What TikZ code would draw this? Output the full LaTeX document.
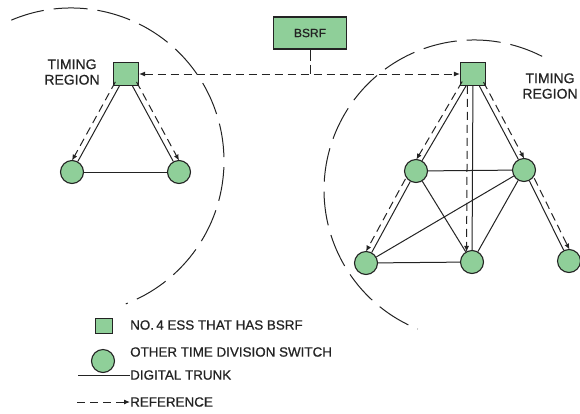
\documentclass[tikz,border=0pt]{standalone}
\usepackage{fontspec}
\setmainfont[FakeBold=0.7]{Liberation Sans}
\usetikzlibrary{calc,arrows.meta}
\definecolor{swgreen}{RGB}{143,207,153}
\definecolor{ink}{RGB}{35,35,35}
\tikzset{
  ess/.style={draw=ink, fill=swgreen, line width=1.1pt, minimum width=25pt,
    minimum height=23pt, inner sep=0pt},
  tds/.style={circle, draw=ink, fill=swgreen, line width=1.1pt, minimum size=23pt,
    inner sep=0pt},
  trunk/.style={draw=ink, line width=1pt},
  reftip/.style={-{Latex[length=6pt,width=5pt]}},
  refl/.style={draw=ink, line width=1pt, dash pattern=on 8pt off 5pt, reftip},
  region/.style={draw=ink, line width=1pt, dash pattern=on 34pt off 10pt},
  lbl/.style={font=\fontsize{13.4}{15}\selectfont, text=ink, align=center, inner sep=0pt},
}
% solid trunk between two switches, plus the reference line beside it
% (#3 = +90 or -90 picks the side of the offset)
\newcommand\reftrunk[3]{%
  \draw[trunk] (#1) -- (#2);
  \draw[refl, shorten <=12pt, shorten >=10pt]
    ($(#1)!5.5pt!#3:(#2)$) -- ($(#2)!5.5pt!-#3:(#1)$);
}
\begin{document}
\begin{tikzpicture}[x=1pt, y=-1pt]
\useasboundingbox (0,0) rectangle (580,413);

% timing region boundaries
\draw[region] (71,161) ++(-113:153) arc[start angle=-113, end angle=69, radius=153];
\draw[region] (474,190) ++(-63:150) arc[start angle=-63, end angle=-248, radius=150];

% switches
\node[ess] (sqL) at (126,74) {};
\node[tds] (cL1) at (72,172) {};
\node[tds] (cL2) at (179,172) {};

\node[ess] (sqR) at (473,74) {};
\node[tds] (t1) at (416,171) {};
\node[tds] (t2) at (524,170) {};
\node[tds] (b1) at (366,263) {};
\node[tds] (b2) at (472,262) {};
\node[tds] (b3) at (569,261) {};

\node[ess, minimum width=73pt, minimum height=32pt,
      font=\fontsize{12}{14}\selectfont, text=ink] (bsrf) at (310,33) {BSRF};

% BSRF reference distribution
\draw[draw=ink, line width=1pt, dash pattern=on 8pt off 5pt,
      {Latex[length=6pt,width=5pt]}-{Latex[length=6pt,width=5pt]}]
  (sqL.east) -- (sqR.west);
\coordinate (tap) at (bsrf.south |- sqL.east);
\draw[draw=ink, line width=1pt, dash pattern=on 11pt off 4pt] (bsrf.south) -- (tap);

% left timing region
\reftrunk{sqL}{cL1}{-90}
\reftrunk{sqL}{cL2}{90}
\draw[trunk] (cL1) -- (cL2);

% right timing region
\reftrunk{sqR}{t1}{-90}
\reftrunk{sqR}{t2}{90}
\reftrunk{sqR}{b2}{-90}
\reftrunk{t1}{b1}{-90}
\reftrunk{t2}{b3}{90}
\draw[trunk] (t1) -- (t2);
\draw[trunk] (t1) -- (b2);
\draw[trunk] (t2) -- (b1);
\draw[trunk] (t2) -- (b2);
\draw[trunk] (b1) -- (b2);

% region labels
\node[lbl, font=\fontsize{14}{15.5}\selectfont] (tmL) at (72,72) {TIMING\\REGION};
\node[lbl, font=\fontsize{14}{15.5}\selectfont] (tmR) at (550,86) {TIMING\\REGION};

% legend
\node[ess, minimum width=17pt, minimum height=15pt] (lgE) at (104,326) {};
\node[tds] (lgT) at (103,361) {};
\node[lbl, anchor=west] (tE) at (130,325) {NO.\,4 ESS THAT HAS BSRF};
\node[lbl, anchor=west] (tT) at (130,352) {OTHER TIME DIVISION SWITCH};
\node[lbl, anchor=west] (tD) at (130,375) {DIGITAL TRUNK};
\node[lbl, anchor=west] (tR) at (130,402) {REFERENCE};
\coordinate (dStart) at (78,375);
\coordinate (rStart) at (77,402);
\draw[trunk] (dStart) -- (tD.west);
\draw[refl] (rStart) -- (tR.west);
\end{tikzpicture}
\end{document}
